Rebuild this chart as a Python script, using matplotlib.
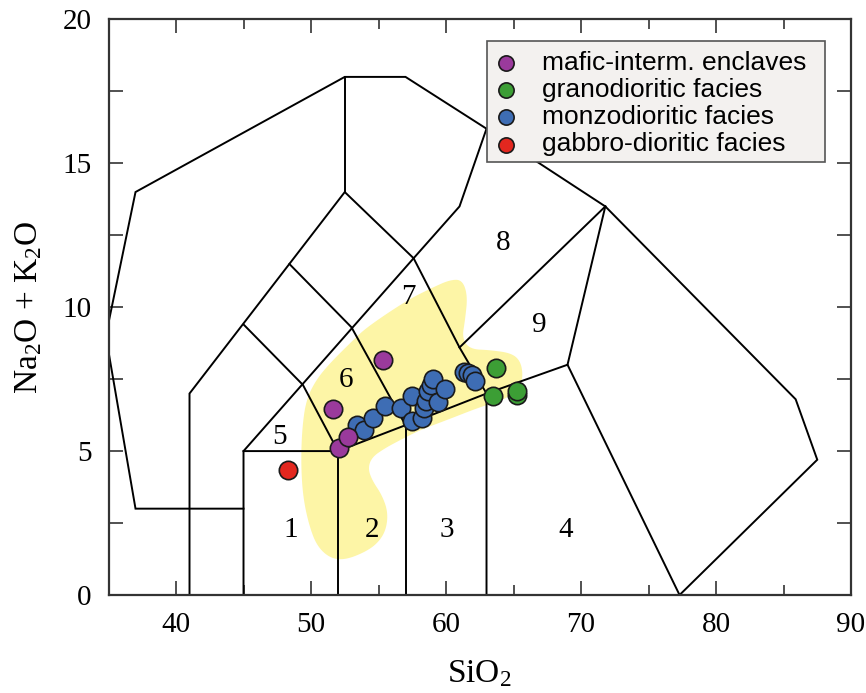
import matplotlib
matplotlib.use("Agg")
import matplotlib.pyplot as plt
from matplotlib.patches import Polygon, Rectangle
import numpy as np

plt.rcParams['font.family'] = 'Liberation Serif'
plt.rcParams['mathtext.fontset'] = 'custom'
plt.rcParams['mathtext.rm'] = 'Liberation Serif'
plt.rcParams['mathtext.it'] = 'Liberation Serif'

# ---------------------------------------------------------------- data ----

# samples (SiO2, Na2O+K2O)
mafic_x = [51.65, 52.05, 52.75, 55.3]
mafic_y = [6.45, 5.10, 5.50, 8.15]

grano_x = [63.7, 63.5, 65.25, 65.25]
grano_y = [7.90, 6.90, 6.95, 7.10]

monzo_x = [53.4, 53.9, 54.6, 55.5, 56.7, 57.5, 57.5, 58.2, 58.4, 58.5,
           58.7, 58.9, 59.05, 59.4, 59.95, 61.3, 61.6, 61.9, 62.15]
monzo_y = [5.90, 5.75, 6.15, 6.55, 6.50, 6.90, 6.05, 6.15, 6.50, 6.75,
           7.10, 7.30, 7.50, 6.70, 7.15, 7.75, 7.70, 7.65, 7.45]

gabbro_x = [48.3]
gabbro_y = [4.35]

# field boundaries (Middlemost plutonic TAS)
field_lines = [
    [(45, 3), (37, 3), (34.8, 9.0), (37, 14), (52.5, 18), (57, 18),
     (63, 16.2), (61, 13.5), (57.6, 11.7)],
    [(52.5, 18), (52.5, 14)],
    [(63, 16.2), (71.8, 13.5), (85.9, 6.8), (87.5, 4.7), (77.3, 0)],
    [(41, 0), (41, 7), (52.5, 14), (57.6, 11.7), (61, 8.6), (63, 7)],
    [(61, 8.6), (71.8, 13.5)],
    [(63, 0), (63, 7), (69, 8), (71.8, 13.5)],
    [(69, 8), (77.3, 0)],
    [(45, 0), (45, 5), (52, 5), (57, 5.9), (63, 7)],
    [(52, 0), (52, 5)],
    [(57, 0), (57, 5.9)],
    [(45, 5), (57.6, 11.7)],
    [(45, 9.4), (49.4, 7.3), (52, 5)],
    [(48.4, 11.5), (53, 9.3), (57, 5.9)],
]

field_labels = ['1', '2', '3', '4', '5', '6', '7', '8', '9']
label_x = [48.5, 54.5, 60.05, 68.9, 47.65, 52.6, 57.2, 64.2, 66.9]
label_y = [2.26, 2.26, 2.26, 2.26, 5.5, 7.47, 10.36, 12.23, 9.38]

# yellow trend field outline
blob_x = [60.3, 61.2, 61.6, 61.41, 61.19, 61.78, 63.26, 64.89, 65.56, 65.70,
          65.33, 64.22, 62.52, 60.07, 58.07, 56.59, 55.48, 54.52, 54.22, 54.52,
          55.26, 55.70, 55.56, 54.96, 54.0, 52.52, 51.41, 50.44, 49.85, 49.41,
          49.26, 49.33, 49.63, 50.37, 51.41, 53.11, 54.15, 57.11, 59.04]
blob_y = [10.95, 10.95, 10.4, 9.55, 8.92, 8.54, 8.51, 8.40, 8.09, 7.53,
          7.12, 6.77, 6.53, 6.08, 5.73, 5.38, 5.10, 4.79, 4.41, 3.99,
          3.47, 2.88, 2.26, 1.81, 1.49, 1.22, 1.28, 1.70, 2.43, 3.40,
          4.51, 5.73, 6.77, 7.47, 8.06, 8.85, 9.31, 10.24, 10.69]

# ---------------------------------------------------------------- plot ----

def chaikin(pts, n=3):
    # smooth a closed outline
    for _ in range(n):
        q = 0.75 * pts + 0.25 * np.roll(pts, -1, axis=0)
        r = 0.25 * pts + 0.75 * np.roll(pts, -1, axis=0)
        pts = np.empty((2 * len(q), 2))
        pts[0::2] = q
        pts[1::2] = r
    return pts

fig = plt.figure(figsize=(8.66, 6.93), dpi=100)
ax = fig.add_axes([0.1253, 0.1414, 0.8574, 0.8307])

blob = chaikin(np.column_stack([blob_x, blob_y]))
ax.add_patch(Polygon(blob, closed=True, facecolor='#fdf5a6', edgecolor='none', zorder=1))

for seg in field_lines:
    xs, ys = zip(*seg)
    ax.plot(xs, ys, color='black', lw=1.4, zorder=2, solid_joinstyle='miter')

for t, x, y in zip(field_labels, label_x, label_y):
    ax.text(x, y, t, fontsize=21, ha='center', va='center', zorder=3)

kw = dict(s=175, edgecolors='#1a1a1a', linewidths=1.2, zorder=4)
ax.scatter(gabbro_x, gabbro_y, color='#e3271f', **kw)
ax.scatter(monzo_x, monzo_y, color='#3e6db4', **kw)
ax.scatter(grano_x, grano_y, color='#3c9e35', **kw)
ax.scatter(mafic_x, mafic_y, color='#9a3a9c', **kw)

# legend handles (drawing order differs from legend order)
h1 = ax.scatter([], [], color='#9a3a9c', label='mafic-interm. enclaves', **kw)
h2 = ax.scatter([], [], color='#3c9e35', label='granodioritic facies', **kw)
h3 = ax.scatter([], [], color='#3e6db4', label='monzodioritic facies', **kw)
h4 = ax.scatter([], [], color='#e3271f', label='gabbro-dioritic facies', **kw)

ax.add_patch(Rectangle((63.0, 15.05), 25.07, 4.2, facecolor='#f3f1ef',
                       edgecolor='#555555', lw=1.2, zorder=5))
leg = ax.legend(handles=[h1, h2, h3, h4], loc='upper left',
                bbox_to_anchor=(63.0, 19.13), bbox_transform=ax.transData,
                frameon=False, borderaxespad=0, borderpad=0.25,
                handlelength=1.0, handletextpad=0.87, labelspacing=0.12,
                markerscale=0.83, prop={'family': 'Liberation Sans', 'size': 19})
leg.set_zorder(6)

ax.set_xlim(35, 90)
ax.set_ylim(0, 20)
ax.set_xticks([40, 50, 60, 70, 80, 90])
ax.set_xticks(np.arange(35, 91, 5), minor=True)
ax.set_yticks([0, 5, 10, 15, 20])
ax.set_yticks(np.arange(0, 20.1, 2.5), minor=True)
ax.tick_params(which='both', direction='in', top=True, right=True,
               labelsize=21, color='#333333', width=1.2)
ax.tick_params(which='major', length=10, pad=12)
ax.tick_params(axis='x', which='minor', length=7)
ax.tick_params(axis='y', which='minor', length=10)
for sp in ax.spines.values():
    sp.set_linewidth(1.6)
    sp.set_color('#333333')

ax.set_xlabel('SiO$_2$', fontsize=24, labelpad=15)
ax.set_ylabel('Na$_2$O + K$_2$O', fontsize=24, labelpad=13)

fig.savefig('out.png', dpi=100)
